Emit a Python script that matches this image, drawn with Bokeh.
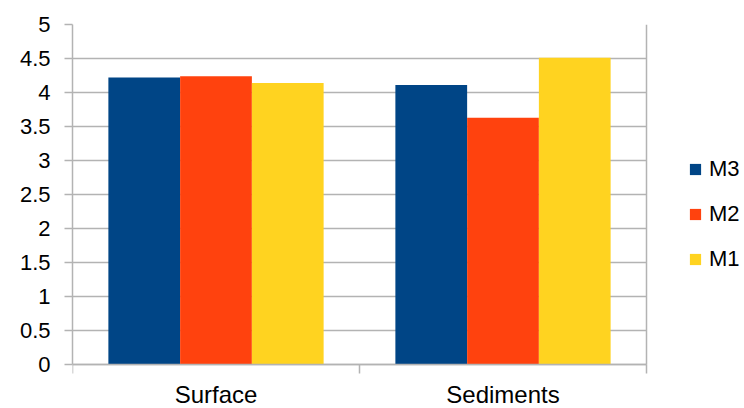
from bokeh.plotting import figure
from bokeh.models import FixedTicker, Grid
from bokeh.embed import file_html
from bokeh.resources import INLINE

# Data
categories = ["Surface", "Sediments"]
series_names = ["M3", "M2", "M1"]
m3_values = [4.22, 4.11]
m2_values = [4.24, 3.63]
m1_values = [4.14, 4.51]
y_ticks = [0, 0.5, 1, 1.5, 2, 2.5, 3, 3.5, 4, 4.5, 5]

colors = ["#004586", "#FF420E", "#FFD320"]
offsets = [-0.25, 0.0, 0.25]
bar_width = 0.25
grey = "#b3b3b3"
font = "Liberation Sans"

# Layout in pixels: plot wall 574 x 340, legend to its right, labels below
W, H = 744, 408
left, top = 72, 24
wall_w, wall_h = 574, 340
n = len(categories)
y_max = y_ticks[-1]
x_end = n * (W - left) / wall_w
y_start = -y_max * (H - top - wall_h) / wall_h

p = figure(
    width=W, height=H,
    x_range=(0, x_end), y_range=(y_start, y_max),
    output_backend="svg", toolbar_location=None,
    min_border_left=left, min_border_right=0,
    min_border_top=top, min_border_bottom=0,
)
p.outline_line_color = None
p.background_fill_color = "white"

centers = [i + 0.5 for i in range(n)]

# Horizontal gridlines limited to the plot wall
p.xgrid.grid_line_color = None
p.ygrid.grid_line_color = None
if "cross_bounds" in Grid.properties():
    g = Grid(dimension=1, ticker=FixedTicker(ticks=y_ticks), cross_bounds=(0, n),
             grid_line_color=grey, grid_line_width=1.5)
    p.add_layout(g)
else:
    p.segment(x0=[0] * len(y_ticks), x1=[n] * len(y_ticks), y0=y_ticks, y1=y_ticks,
              line_color=grey, line_width=1.5)

# Right edge of the plot wall
p.segment(x0=[n], x1=[n], y0=[0], y1=[y_max], line_color=grey, line_width=1.5)

for name, vals, col, off in zip(series_names, [m3_values, m2_values, m1_values], colors, offsets):
    p.vbar(x=[c + off for c in centers], top=vals, width=bar_width,
           fill_color=col, line_color=None, legend_label=name)

# Y axis
p.yaxis.bounds = (0, y_max)
p.yaxis.ticker = FixedTicker(ticks=y_ticks, minor_ticks=[])
p.yaxis.major_label_overrides = {t: f"{t:g}" for t in y_ticks}
p.yaxis.axis_line_color = grey
p.yaxis.axis_line_width = 1.5
p.yaxis.major_tick_line_color = grey
p.yaxis.major_tick_line_width = 1.5
p.yaxis.major_tick_out = 8
p.yaxis.major_tick_in = 0
p.yaxis.major_label_standoff = 14
p.yaxis.major_label_text_font = font
p.yaxis.major_label_text_font_size = "22px"
p.yaxis.major_label_text_color = "black"

# X axis at y=0: labels at category centres, tick marks at category boundaries
p.xaxis.fixed_location = 0
p.xaxis.bounds = (0, n)
p.xaxis.ticker = FixedTicker(ticks=centers, minor_ticks=list(range(n + 1)))
p.xaxis.major_label_overrides = {c: name for c, name in zip(centers, categories)}
p.xaxis.axis_line_color = grey
p.xaxis.axis_line_width = 1.5
p.xaxis.major_tick_line_color = None
p.xaxis.major_tick_out = 0
p.xaxis.major_tick_in = 0
p.xaxis.minor_tick_line_color = grey
p.xaxis.minor_tick_line_width = 1.5
p.xaxis.minor_tick_out = 9
p.xaxis.minor_tick_in = 0
p.xaxis.major_label_standoff = 7
p.xaxis.major_label_text_font = font
p.xaxis.major_label_text_font_size = "24px"
p.xaxis.major_label_text_color = "black"

# Legend to the right of the plot wall
lg = p.legend[0]
lg.location = (616, 136)
lg.orientation = "vertical"
lg.glyph_width = 14
lg.glyph_height = 14
lg.label_standoff = 7
lg.spacing = 19
lg.padding = 0
lg.margin = 0
lg.border_line_color = None
lg.background_fill_alpha = 0
lg.label_text_font = font
lg.label_text_font_size = "22px"
lg.label_text_color = "black"

open("out.html", "w").write(file_html(p, INLINE))
